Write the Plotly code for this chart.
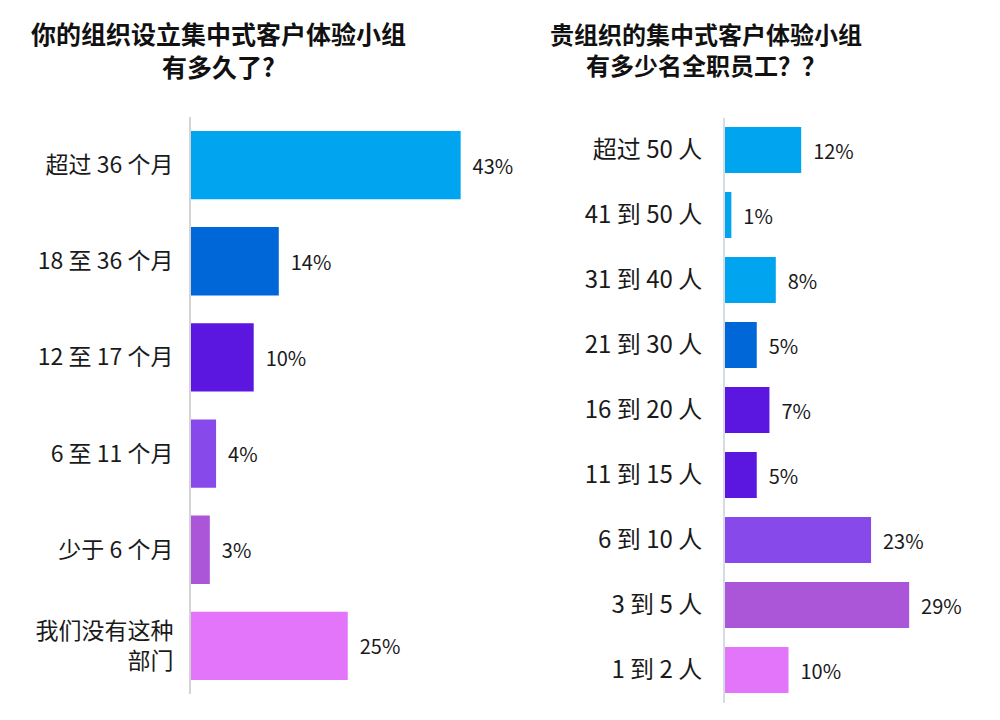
import plotly.graph_objects as go

# Left chart data
left_categories = ["超过 36 个月", "18 至 36 个月", "12 至 17 个月", "6 至 11 个月", "少于 6 个月", "我们没有这种<br>部门"]
left_values = [43, 14, 10, 4, 3, 25]
left_colors = ["#00A4EF", "#0067D8", "#5B16E0", "#8749EA", "#AB55D8", "#E375FB"]

# Right chart data
right_categories = ["超过 50 人", "41 到 50 人", "31 到 40 人", "21 到 30 人", "16 到 20 人",
                    "11 到 15 人", "6 到 10 人", "3 到 5 人", "1 到 2 人"]
right_values = [12, 1, 8, 5, 7, 5, 23, 29, 10]
right_colors = ["#00A4EF", "#00A4EF", "#00A4EF", "#0067D8", "#5B16E0",
                "#5B16E0", "#8749EA", "#AB55D8", "#E375FB"]

left_title = "你的组织设立集中式客户体验小组<br>有多久了?"
right_title = "贵组织的集中式客户体验小组<br>有多少名全职员工？？"

FONT = "Noto Sans CJK SC, Noto Sans, sans-serif"
NB = "\u00a0\u00a0"
OFF = 8  # page body margin

fig = go.Figure()
fig.add_trace(go.Bar(
    y=left_categories, x=left_values, orientation="h",
    marker=dict(color=left_colors, line=dict(width=0)),
    text=[f"{NB}{v}%" for v in left_values], textposition="outside",
    textfont=dict(size=20, color="#1a1a1a", family=FONT),
    cliponaxis=False, xaxis="x", yaxis="y", showlegend=False, hoverinfo="skip",
))
fig.add_trace(go.Bar(
    y=right_categories, x=right_values, orientation="h",
    marker=dict(color=right_colors, line=dict(width=0)),
    text=[f"{NB}{v}%" for v in right_values], textposition="outside",
    textfont=dict(size=20, color="#1a1a1a", family=FONT),
    cliponaxis=False, xaxis="x2", yaxis="y2", showlegend=False, hoverinfo="skip",
))

W, H = 1000, 720
fig.update_layout(
    width=W, height=H,
    margin=dict(l=0, r=0, t=0, b=0),
    paper_bgcolor="white", plot_bgcolor="white",
    bargap=0.29,
    font=dict(family=FONT, color="#1a1a1a"),
    xaxis=dict(domain=[(191 - OFF) / W, (492 - OFF) / W], range=[0, 48], visible=False),
    yaxis=dict(domain=[1 - (694 - OFF) / H, 1 - (117 - OFF) / H], anchor="x", autorange="reversed",
               showline=True, linecolor="#d4d4d4", linewidth=2, ticks="",
               showgrid=False, tickfont=dict(size=23, color="#1a1a1a", family=FONT),
               ticklabelstandoff=11),
    xaxis2=dict(domain=[(725 - OFF) / W, (979 - OFF) / W], range=[0, 40], visible=False, anchor="y2"),
    yaxis2=dict(domain=[1 - (702.5 - OFF) / H, 1 - (117.5 - OFF) / H], anchor="x2", autorange="reversed",
                showline=True, linecolor="#d6dce4", linewidth=2, ticks="",
                showgrid=False, tickfont=dict(size=24, color="#1a1a1a", family=FONT),
                ticklabelstandoff=16),
    showlegend=False,
)

# Titles
fig.add_annotation(text=f"<b>{left_title}</b>", x=(218 - OFF) / W, y=1 - (49 - OFF) / H,
                   xref="paper", yref="paper", showarrow=False,
                   xanchor="center", yanchor="middle",
                   font=dict(size=25, color="#111111", family=FONT))
fig.add_annotation(text=f"<b>{right_title}</b>", x=(706 - OFF) / W, y=1 - (49 - OFF) / H,
                   xref="paper", yref="paper", showarrow=False,
                   xanchor="center", yanchor="middle",
                   font=dict(size=24, color="#111111", family=FONT))

fig.write_html("out.html")
